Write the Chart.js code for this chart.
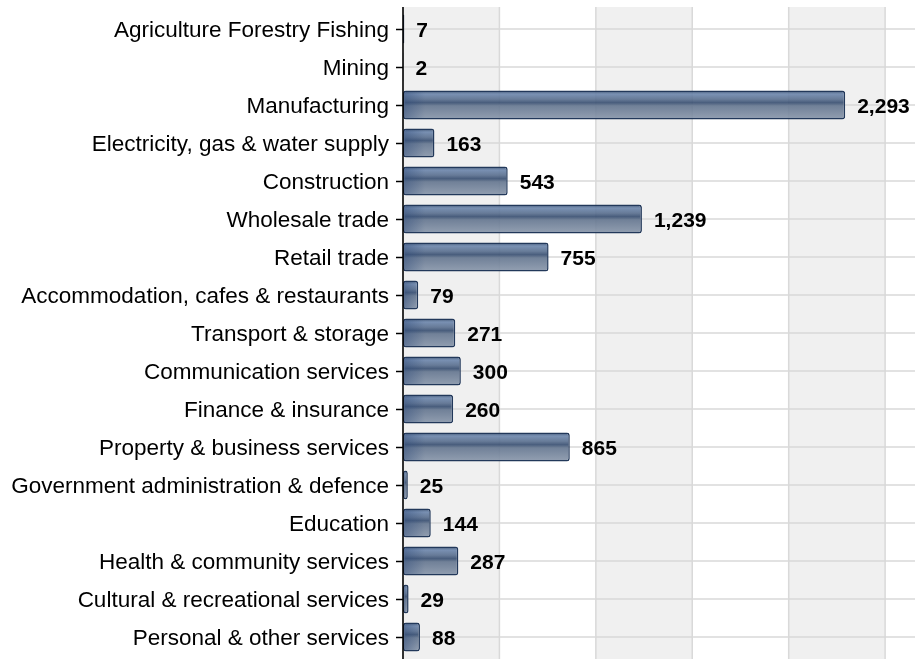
<!DOCTYPE html>
<html>
<head>
<meta charset="utf-8">
<script src="https://cdn.jsdelivr.net/npm/chart.js@4"></script>
<style>
  html, body { margin: 0; padding: 0; background: #fff; }
  #wrap { width: 915px; height: 659px; }
</style>
</head>
<body>
<div id="wrap"><canvas id="chart" width="915" height="659"></canvas></div>
<script>
const industries = [
  'Agriculture Forestry Fishing',
  'Mining',
  'Manufacturing',
  'Electricity, gas & water supply',
  'Construction',
  'Wholesale trade',
  'Retail trade',
  'Accommodation, cafes & restaurants',
  'Transport & storage',
  'Communication services',
  'Finance & insurance',
  'Property & business services',
  'Government administration & defence',
  'Education',
  'Health & community services',
  'Cultural & recreational services',
  'Personal & other services'
];
const counts = [7, 2, 2293, 163, 543, 1239, 755, 79, 271, 300, 260, 865, 25, 144, 287, 29, 88];
const xTicks = [0, 500, 1000, 1500, 2000, 2500];

const BAR_PCT = 0.76;

function barFill(ctx) {
  const chart = ctx.chart;
  const yScale = chart.scales.y;
  if (!chart.chartArea || !yScale) return '#5a6f8e';
  const step = (yScale.bottom - yScale.top) / industries.length;
  const cy = yScale.getPixelForValue(ctx.dataIndex);
  const h = step * BAR_PCT;
  const g = chart.ctx.createLinearGradient(0, cy - h / 2, 0, cy + h / 2);
  g.addColorStop(0, 'rgba(52,74,106,0.92)');
  g.addColorStop(0.12, 'rgba(108,134,172,0.9)');
  g.addColorStop(0.3, 'rgba(88,110,142,0.9)');
  g.addColorStop(0.42, 'rgba(58,80,114,0.92)');
  g.addColorStop(0.52, 'rgba(98,116,142,0.9)');
  g.addColorStop(1, 'rgba(136,150,170,0.9)');
  return g;
}

// grey/white bands, grid lines and axis line stretched over the panel
const panelPlugin = {
  id: 'panel',
  beforeDatasetsDraw(chart) {
    const c = chart.ctx;
    const x = chart.scales.x;
    const y = chart.scales.y;
    const top = 7, bottom = 659, right = chart.width;
    c.save();
    for (let i = 0; i < xTicks.length; i++) {
      if (i % 2 !== 0) continue;
      const x0 = x.getPixelForValue(xTicks[i]);
      const x1 = i + 1 < xTicks.length ? x.getPixelForValue(xTicks[i + 1]) : right;
      c.fillStyle = '#f0f0f0';
      c.fillRect(x0, top, x1 - x0, bottom - top);
    }
    c.strokeStyle = '#d9d9d9';
    c.lineWidth = 1.5;
    industries.forEach((_, i) => {
      const py = y.getPixelForValue(i);
      c.beginPath();
      c.moveTo(x.left, py);
      c.lineTo(right, py);
      c.stroke();
    });
    xTicks.forEach(v => {
      if (v === 0) return;
      const px = x.getPixelForValue(v);
      c.beginPath();
      c.moveTo(px, top);
      c.lineTo(px, bottom);
      c.stroke();
    });
    c.restore();
  },
  afterDatasetsDraw(chart) {
    const c = chart.ctx;
    const meta = chart.getDatasetMeta(0);
    c.save();
    // darker blue strip at the left end of each bar (glossy look)
    meta.data.forEach(bar => {
      const w = Math.min(bar.x - bar.base - 2, 22);
      if (w <= 0) return;
      const g = c.createLinearGradient(bar.base, 0, bar.base + w, 0);
      g.addColorStop(0, 'rgba(40,70,120,0.45)');
      g.addColorStop(1, 'rgba(40,70,120,0)');
      c.fillStyle = g;
      c.fillRect(bar.base + 1, bar.y - bar.height / 2 + 1.5, w, bar.height - 3);
    });
    c.font = 'bold 21px "Liberation Sans", Arial, sans-serif';
    c.fillStyle = '#000';
    c.textAlign = 'left';
    c.textBaseline = 'middle';
    meta.data.forEach((bar, i) => {
      c.fillText(counts[i].toLocaleString('en-US'), bar.x + 12, bar.y + 2);
    });
    // y axis line
    const ax = chart.scales.x.left;
    c.strokeStyle = '#000';
    c.lineWidth = 1.6;
    c.beginPath();
    c.moveTo(ax, 7);
    c.lineTo(ax, 659);
    c.stroke();
    c.restore();
  }
};

new Chart(document.getElementById('chart'), {
  type: 'bar',
  data: {
    labels: industries,
    datasets: [{
      data: counts,
      backgroundColor: barFill,
      borderColor: '#22385a',
      borderWidth: 1.5,
      borderSkipped: false,
      borderRadius: 3,
      categoryPercentage: 1,
      barPercentage: BAR_PCT
    }]
  },
  options: {
    indexAxis: 'y',
    responsive: false,
    animation: false,
    layout: { padding: { top: 10, bottom: 3, left: 0, right: 0 } },
    plugins: { legend: { display: false }, tooltip: { enabled: false } },
    scales: {
      x: {
        display: false,
        min: 0,
        max: 2655,
        ticks: { stepSize: 500 }
      },
      y: {
        afterFit: s => {
          s.width = 403;
          s.paddingTop = 0;
          s.paddingBottom = 0;
        },
        grid: {
          offset: false,
          drawOnChartArea: false,
          tickLength: 7,
          tickColor: '#000',
          tickWidth: 1.5
        },
        border: { display: false },
        ticks: {
          padding: 7,
          labelOffset: 2,
          color: '#000',
          font: { family: '"Liberation Sans", Arial, sans-serif', size: 22.5 }
        }
      }
    }
  },
  plugins: [panelPlugin]
});
</script>
</body>
</html>
